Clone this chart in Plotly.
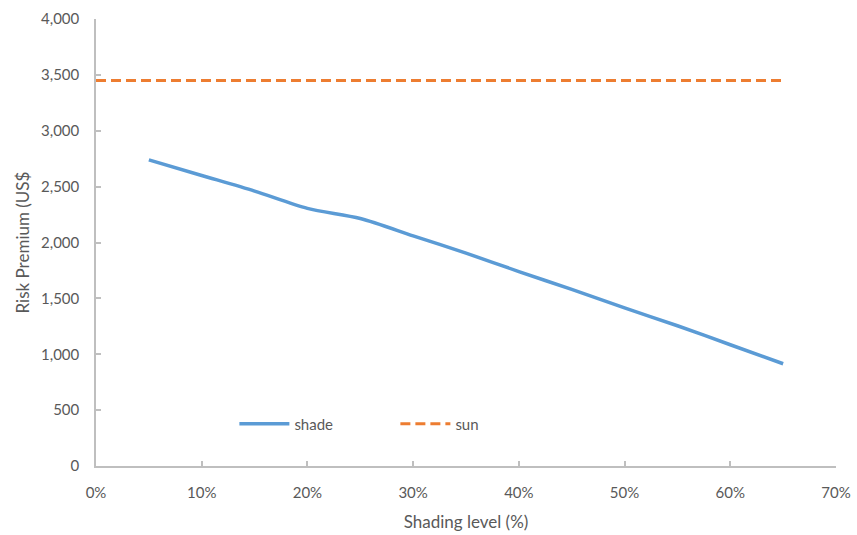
import plotly.graph_objects as go

# Shading level (fraction) and risk premium (US$)
shade_x = [0.05, 0.10, 0.15, 0.20, 0.25, 0.30, 0.35, 0.40, 0.45, 0.50, 0.55, 0.60, 0.65]
shade_y = [2740, 2600, 2460, 2305, 2215, 2060, 1905, 1740, 1580, 1415, 1255, 1085, 915]

sun_x = [0.0, 0.05, 0.10, 0.15, 0.20, 0.25, 0.30, 0.35, 0.40, 0.45, 0.50, 0.55, 0.60, 0.65]
sun_y = [3450] * len(sun_x)

x_ticks = [0.0, 0.1, 0.2, 0.3, 0.4, 0.5, 0.6, 0.7]
y_ticks = [0, 500, 1000, 1500, 2000, 2500, 3000, 3500, 4000]

FONT = "Lato"
GREY = "#595959"
AXIS = "#bfbfbf"

fig = go.Figure()
fig.add_trace(go.Scatter(
    x=shade_x, y=shade_y, name="shade", mode="lines",
    line=dict(color="#5b9bd5", width=3.5, shape="spline", smoothing=0.8),
))
fig.add_trace(go.Scatter(
    x=sun_x, y=sun_y, name="sun", mode="lines",
    line=dict(color="#ed7d31", width=3, dash="10px,5px"),
))

fig.update_layout(
    width=857, height=535,
    margin=dict(l=96, r=21, t=19, b=69),
    paper_bgcolor="white", plot_bgcolor="white",
    font=dict(family=FONT, size=15, color=GREY),
    showlegend=True,
    legend=dict(
        orientation="h", x=0.187, y=0.094, xanchor="left", yanchor="middle",
        bgcolor="rgba(0,0,0,0)", font=dict(size=15, color=GREY),
        itemwidth=50, entrywidth=96, entrywidthmode="pixels",
    ),
)
fig.update_xaxes(
    range=[0, 0.7], tickvals=x_ticks, tickformat=".0%",
    showgrid=False, zeroline=False, automargin=False,
    showline=True, linecolor=AXIS, linewidth=1.5,
    ticks="inside", ticklen=5, tickcolor=AXIS, tickwidth=1.5,
    ticklabelstandoff=12,
    title=dict(text="Shading level (%)", font=dict(size=17, color=GREY), standoff=16),
)
fig.update_yaxes(
    range=[0, 4000], tickvals=y_ticks, tickformat=",",
    showgrid=False, zeroline=False, automargin=False,
    showline=True, linecolor=AXIS, linewidth=1.5,
    ticks="inside", ticklen=5, tickcolor=AXIS, tickwidth=1.5,
    ticklabelstandoff=12,
    title=dict(text="Risk Premium (US$", font=dict(size=17, color=GREY), standoff=7),
)

fig.write_html("out.html")
